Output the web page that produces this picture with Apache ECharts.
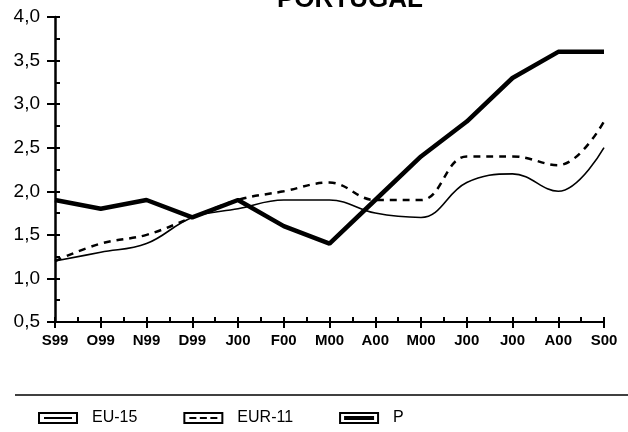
<!DOCTYPE html>
<html>
<head>
<meta charset="utf-8">
<script src="https://cdn.jsdelivr.net/npm/echarts@6/dist/echarts.min.js"></script>
<style>
  html, body { margin: 0; padding: 0; background: #fff; }
  #main { width: 628px; height: 432px; }
</style>
</head>
<body>
<div id="main"></div>
<script>
const months = ["S99", "O99", "N99", "D99", "J00", "F00", "M00", "A00", "M00", "J00", "J00", "A00", "S00"];
const eu15 = [1.2, 1.3, 1.4, 1.7, 1.8, 1.9, 1.9, 1.75, 1.7, 2.1, 2.2, 2.0, 2.5];
const eur11 = [1.2, 1.4, 1.5, 1.7, 1.9, 2.0, 2.1, 1.9, 1.9, 2.4, 2.4, 2.3, 2.8];
const portugal = [1.9, 1.8, 1.9, 1.7, 1.9, 1.6, 1.4, 1.9, 2.4, 2.8, 3.3, 3.6, 3.6];

const chart = echarts.init(document.getElementById("main"));

// legend icons: a frame with the line style drawn inside
const frame = "M0,0 L40,0 L40,12 L0,12 Z M2,2 L2,10 L38,10 L38,2 Z ";
const icons = {
    "EU-15": "path://" + frame + "M6,5 L34,5 L34,7 L6,7 Z",
    "EUR-11": "path://" + frame + "M6,5 L13,5 L13,7 L6,7 Z M16.5,5 L23.5,5 L23.5,7 L16.5,7 Z M27,5 L34,5 L34,7 L27,7 Z",
    "P": "path://" + frame + "M5,4 L35,4 L35,8 L5,8 Z"
};

const font = "Liberation Sans";

option = {
    backgroundColor: "#fff",
    animation: false,
    title: {
        text: "PORTUGAL",
        left: 277,
        top: -13,
        padding: 0,
        textStyle: { fontFamily: font, fontSize: 26, fontWeight: "bold", color: "#000" }
    },
    legend: {
        left: 33,
        top: 405,
        itemWidth: 40,
        itemHeight: 12,
        itemGap: 46,
        itemStyle: { borderWidth: 0 },
        textStyle: { fontFamily: font, fontSize: 16, color: "#000", padding: [0, 0, 0, 9] },
        data: [
            { name: "EU-15", icon: icons["EU-15"] },
            { name: "EUR-11", icon: icons["EUR-11"] },
            { name: "P", icon: icons["P"] }
        ]
    },
    grid: { left: 55, right: 24, top: 17, bottom: 110 },
    xAxis: [
        {
            type: "category",
            data: months,
            boundaryGap: false,
            position: "bottom",
            axisLine: { lineStyle: { color: "#000", width: 2 } },
            axisTick: { length: 6, lineStyle: { color: "#000", width: 2 } },
            axisLabel: { color: "#000", fontFamily: font, fontSize: 15, fontWeight: "bold", margin: 11 },
            splitLine: { show: false }
        },
        {
            type: "value",
            min: 0,
            max: months.length - 1,
            interval: 0.5,
            position: "bottom",
            offset: 0,
            axisLine: { show: false },
            axisTick: { inside: true, length: 5, lineStyle: { color: "#000", width: 2 } },
            axisLabel: { show: false },
            splitLine: { show: false }
        }
    ],
    yAxis: [
        {
            type: "value",
            min: 0.5,
            max: 4.0,
            interval: 0.5,
            position: "left",
            axisLine: { show: true, lineStyle: { color: "#000", width: 2.5 } },
            axisTick: { show: true, length: 8, lineStyle: { color: "#000", width: 2 } },
            axisLabel: {
                color: "#000", fontFamily: font, fontSize: 19, margin: 15,
                formatter: (v) => v.toFixed(1).replace(".", ",")
            },
            splitLine: { show: false }
        },
        {
            type: "value",
            min: 0.5,
            max: 4.0,
            interval: 0.25,
            position: "left",
            offset: 0,
            axisLine: { show: false },
            axisTick: { show: true, inside: true, length: 5, lineStyle: { color: "#000", width: 2 } },
            axisLabel: { show: false },
            splitLine: { show: false }
        }
    ],
    graphic: [
        {
            type: "line",
            shape: { x1: 15, y1: 395, x2: 628, y2: 395 },
            style: { stroke: "#000", lineWidth: 1.5 }
        }
    ],
    series: [
        {
            name: "EU-15",
            type: "line",
            data: eu15,
            smooth: 0.4,
            symbol: "none",
            color: "#000",
            lineStyle: { color: "#000", width: 1.6 }
        },
        {
            name: "EUR-11",
            type: "line",
            data: eur11,
            smooth: 0.4,
            symbol: "none",
            color: "#000",
            lineStyle: { color: "#000", width: 2.5, type: [7, 6] }
        },
        {
            name: "P",
            type: "line",
            data: portugal,
            symbol: "none",
            color: "#000",
            lineStyle: { color: "#000", width: 4.5 }
        }
    ]
};

chart.setOption(option);
</script>
</body>
</html>
